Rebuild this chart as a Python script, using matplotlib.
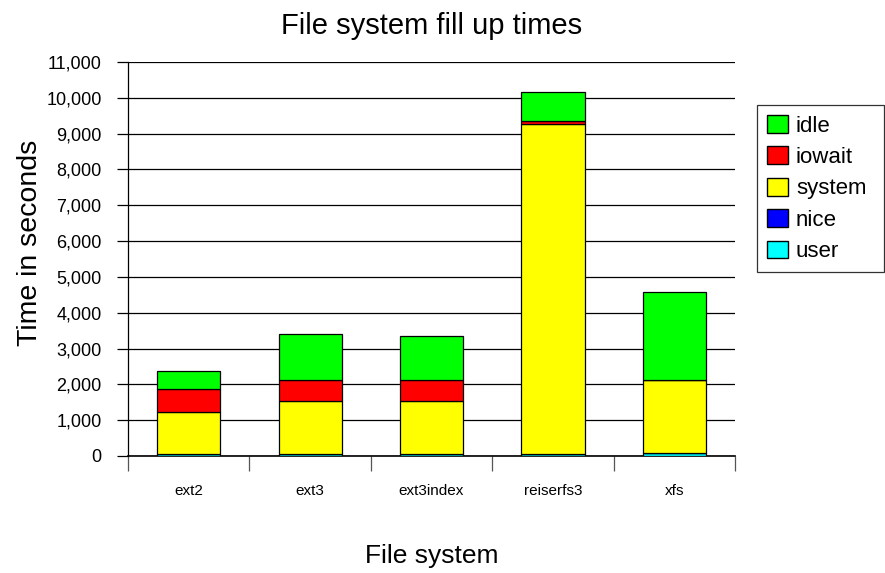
import matplotlib.pyplot as plt
from matplotlib.patches import Patch
from matplotlib.ticker import FuncFormatter, MultipleLocator
import numpy as np

plt.rcParams['font.family'] = ['Liberation Sans', 'DejaVu Sans']

# time spent filling each file system, split by cpu state (seconds)
systems = ['ext2', 'ext3', 'ext3index', 'reiserfs3', 'xfs']
user = [50, 50, 50, 50, 70]
nice = [2, 2, 2, 2, 2]
system = [1173, 1484, 1493, 9222, 2051]
iowait = [650, 576, 578, 84, 10]
idle = [500, 1300, 1241, 812, 2436]

series = [('user', user, '#00ffff'),
          ('nice', nice, '#0000ff'),
          ('system', system, '#ffff00'),
          ('iowait', iowait, '#ff0000'),
          ('idle', idle, '#00ff00')]

fig = plt.figure(figsize=(8.85, 5.73), dpi=100)
ax = fig.add_axes([0.1446, 0.2042, 0.686, 0.6876])

x = np.arange(len(systems))
bottom = np.zeros(len(systems))
for name, vals, col in series:
    ax.bar(x, vals, 0.52, bottom=bottom, color=col, edgecolor='black',
           linewidth=0.9, zorder=3)
    bottom += np.array(vals)

ax.set_xlim(-0.5, len(systems) - 0.5)
ax.set_ylim(0, 11000)
ax.yaxis.set_major_locator(MultipleLocator(1000))
ax.yaxis.set_major_formatter(FuncFormatter(lambda v, p: '{:,.0f}'.format(v)))
ax.grid(axis='y', color='black', linewidth=0.9, zorder=0)

# category boundaries get the ticks, names sit between them
ax.set_xticks(np.arange(-0.5, len(systems), 1.0))
ax.set_xticklabels([])
ax.set_xticks(x, minor=True)
ax.set_xticklabels(systems, minor=True)
ax.tick_params(axis='x', which='major', length=11, color='#555555', width=0.9)
ax.tick_params(axis='x', which='minor', length=0, pad=20, labelsize=11)
ax.tick_params(axis='y', length=8, width=0.9, labelsize=13, pad=11)

for s in ['top', 'right']:
    ax.spines[s].set_visible(False)
ax.spines['left'].set_linewidth(0.9)
ax.spines['bottom'].set_linewidth(1.2)

ax.set_title('File system fill up times', fontsize=21, pad=20)
ax.set_ylabel('Time in seconds', fontsize=20.5)
ax.yaxis.set_label_coords(-0.14, 0.54)
ax.set_xlabel('File system', fontsize=19, labelpad=33)

handles = [Patch(facecolor=c, edgecolor='black', label=n)
           for n, v, c in reversed(series)]
leg = fig.legend(handles=handles, loc='upper left',
                 bbox_to_anchor=(0.8554, 0.5, 0.1435, 0.3168), mode='expand',
                 fontsize=16, frameon=True, fancybox=False, handlelength=0.95,
                 handleheight=0.85, labelspacing=0.445, borderpad=0.45,
                 handletextpad=0.35, borderaxespad=0)
leg.get_frame().set_edgecolor('black')
leg.get_frame().set_linewidth(0.9)

fig.savefig('out.png', dpi=100)
